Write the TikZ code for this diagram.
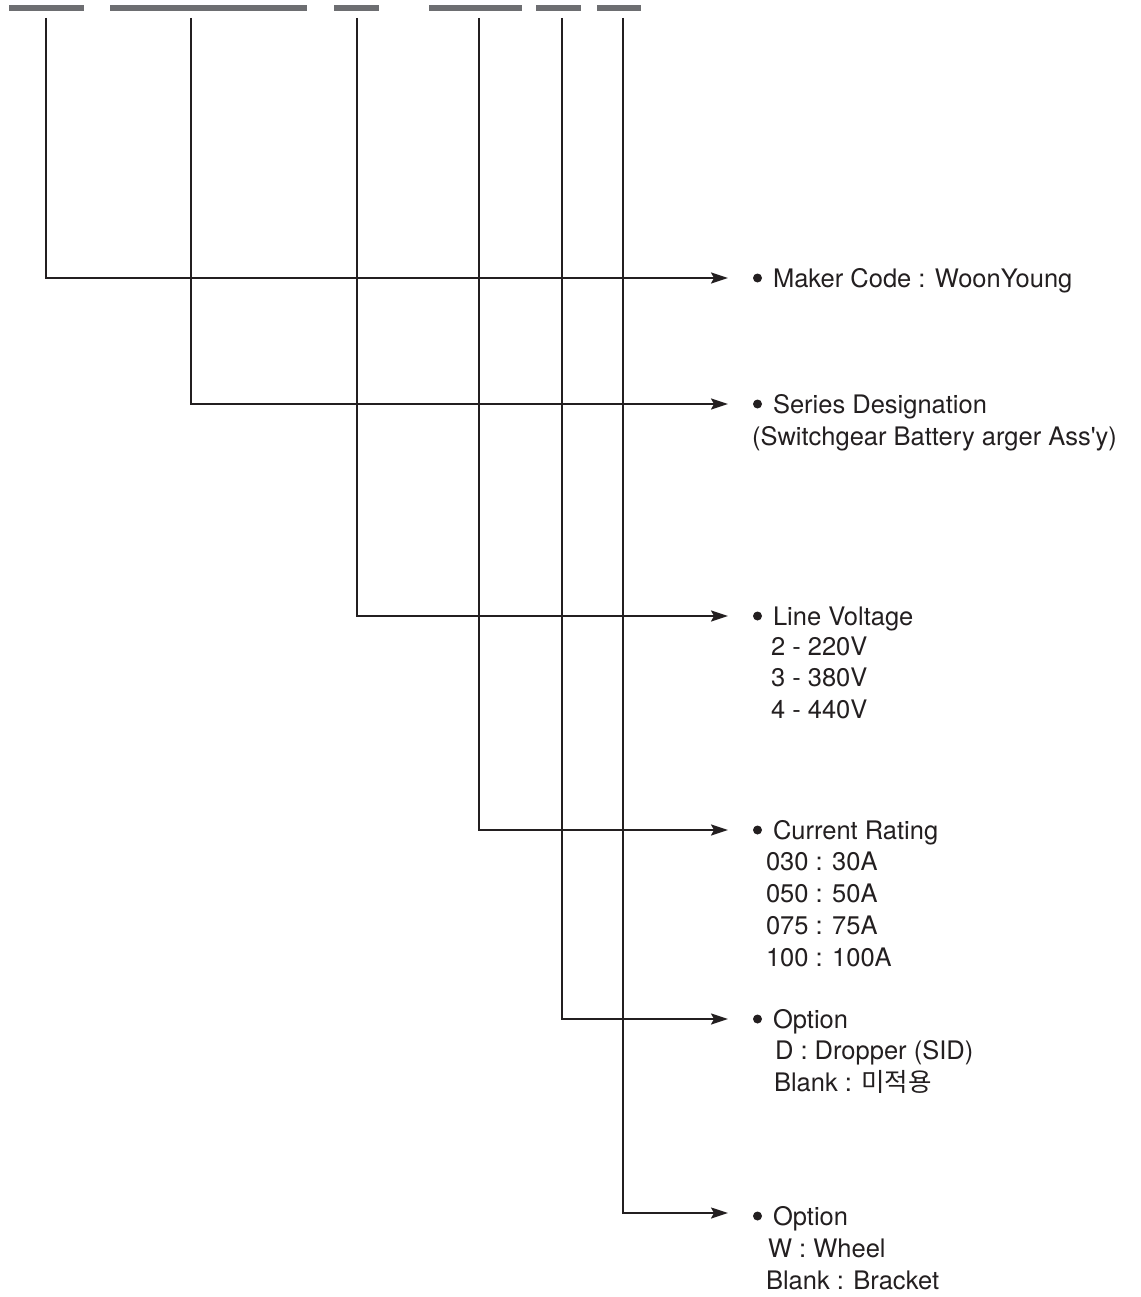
\documentclass[tikz,border=0pt]{standalone}
\usepackage{fontspec}
\newfontfamily\hv{TeX Gyre Heros}
\newfontfamily\kr{Noto Sans CJK KR}
\usetikzlibrary{arrows.meta}
\definecolor{ink}{HTML}{231F20}
\definecolor{bargray}{HTML}{6D6E71}
\tikzset{
  codebar/.style={draw=bargray, line width=6pt},
  lead/.style={draw=ink, line width=2pt, -{Stealth[length=17pt,width=11pt,inset=3pt]}},
  txt/.style={anchor=base west, inner sep=0pt, outer sep=0pt, text=ink, font=\hv\fontsize{25.5}{31}\selectfont},
  dot/.style={circle, fill=ink, inner sep=0pt, minimum size=9pt}
}
\begin{document}
\begin{tikzpicture}[x=1pt,y=-1pt]
\useasboundingbox (0,0) rectangle (1140,1297);
% code bars
\draw[codebar] (9,8) -- (84,8);
\draw[codebar] (110,8) -- (307,8);
\draw[codebar] (334,8) -- (379,8);
\draw[codebar] (429,8) -- (522,8);
\draw[codebar] (536,8) -- (581,8);
\draw[codebar] (597,8) -- (641,8);
% line start points
\coordinate (s1) at (46,18);
\coordinate (s2) at (191,18);
\coordinate (s3) at (357,18);
\coordinate (s4) at (479,18);
\coordinate (s5) at (562,18);
\coordinate (s6) at (623,18);
% arrow ends
\coordinate (e1) at (728,278);
\coordinate (e2) at (728,404);
\coordinate (e3) at (728,616);
\coordinate (e4) at (728,830);
\coordinate (e5) at (728,1019);
\coordinate (e6) at (728,1213);
% connectors
\draw[lead] (s1) |- (e1);
\draw[lead] (s2) |- (e2);
\draw[lead] (s3) |- (e3);
\draw[lead] (s4) |- (e4);
\draw[lead] (s5) |- (e5);
\draw[lead] (s6) |- (e6);
% bullets
\node[dot] (b1) at (757.5,278) {};
\node[dot] (b2) at (757.5,404) {};
\node[dot] (b3) at (757.5,616) {};
\node[dot] (b4) at (757.5,830) {};
\node[dot] (b5) at (757.5,1019) {};
\node[dot] (b6) at (757.5,1216) {};
% texts
\node[txt] (t1) at (773,287) {Maker Code : WoonYoung};
\node[txt] (t2) at (773,413) {Series Designation};
\node[txt] (t2a) at (752,445) {(Switchgear Battery arger Ass'y)};
\node[txt] (t3) at (773,625) {Line Voltage};
\node[txt] (t3a) at (771,655) {2 - 220V};
\node[txt] (t3b) at (771,686) {3 - 380V};
\node[txt] (t3c) at (771,718) {4 - 440V};
\node[txt] (t4) at (773,839) {Current Rating};
\node[txt] (t4a) at (766,870) {030 : 30A};
\node[txt] (t4b) at (766,902) {050 : 50A};
\node[txt] (t4c) at (766,934) {075 : 75A};
\node[txt] (t4d) at (766,966) {100 : 100A};
\node[txt] (t5) at (773,1028) {Option};
\node[txt] (t5a) at (775,1059) {D : Dropper (SID)};
\node[txt] (t5b) at (774,1091) {Blank : {\kr 미적용}};
\node[txt] (t6) at (773,1225) {Option};
\node[txt] (t6a) at (768,1257) {W : Wheel};
\node[txt] (t6b) at (766,1289) {Blank : Bracket};
\end{tikzpicture}
\end{document}
